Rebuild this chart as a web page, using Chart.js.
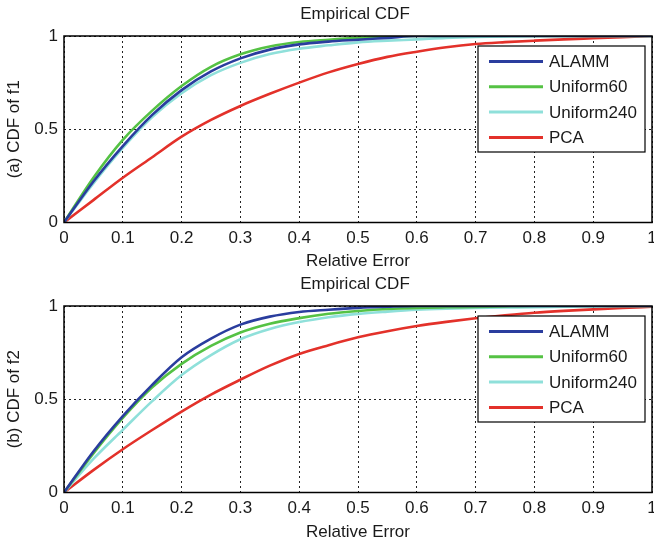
<!DOCTYPE html>
<html>
<head>
<meta charset="utf-8">
<script src="https://cdn.jsdelivr.net/npm/chart.js@4"></script>
<style>
  body { margin: 0; background: #fff; }
  #wrap { position: relative; width: 654px; height: 541px; }
  .box { position: absolute; left: 0; width: 654px; }
</style>
</head>
<body>
<div id="wrap">
  <div class="box" style="top:0;height:270px"><canvas id="chartA"></canvas></div>
  <div class="box" style="top:270px;height:271px"><canvas id="chartB"></canvas></div>
</div>
<script>
// relative error sample points
const errors = [0, 0.05, 0.1, 0.15, 0.2, 0.25, 0.3, 0.35, 0.4, 0.45, 0.5,
                0.55, 0.6, 0.65, 0.7, 0.75, 0.8, 0.85, 0.9, 0.95, 1];
const seriesNames = ['ALAMM', 'Uniform60', 'Uniform240', 'PCA'];
const xTicks = [0, 0.1, 0.2, 0.3, 0.4, 0.5, 0.6, 0.7, 0.8, 0.9, 1];
const yTicks = [0, 0.5, 1];

// (a) CDF of f1
const f1Alamm = [0, 0.22, 0.41, 0.577, 0.71, 0.81, 0.88, 0.927, 0.955, 0.97, 0.98, 0.99, 1, 1, 1, 1, 1, 1, 1, 1, 1];
const f1Uni60 = [0, 0.24, 0.443, 0.60, 0.732, 0.835, 0.902, 0.944, 0.968, 0.98, 0.99, 0.997, 1, 1, 1, 1, 1, 1, 1, 1, 1];
const f1Uni240 = [0, 0.21, 0.40, 0.565, 0.693, 0.79, 0.856, 0.903, 0.932, 0.95, 0.966, 0.975, 0.982, 0.99, 0.995, 0.998, 1, 1, 1, 1, 1];
const f1Pca = [0, 0.12, 0.24, 0.35, 0.46, 0.55, 0.625, 0.69, 0.75, 0.805, 0.85, 0.888, 0.916, 0.94, 0.957, 0.967, 0.975, 0.982, 0.988, 0.994, 1];

// (b) CDF of f2
const f2Alamm = [0, 0.22, 0.41, 0.577, 0.725, 0.825, 0.9, 0.943, 0.968, 0.98, 0.99, 0.996, 1, 1, 1, 1, 1, 1, 1, 1, 1];
const f2Uni60 = [0, 0.21, 0.40, 0.564, 0.69, 0.786, 0.858, 0.905, 0.935, 0.958, 0.973, 0.984, 0.99, 0.993, 0.995, 0.998, 1, 1, 1, 1, 1];
const f2Uni240 = [0, 0.18, 0.336, 0.49, 0.63, 0.737, 0.822, 0.877, 0.914, 0.94, 0.958, 0.97, 0.98, 0.986, 0.99, 0.992, 0.993, 0.996, 0.998, 1, 1];
const f2Pca = [0, 0.12, 0.232, 0.335, 0.434, 0.525, 0.605, 0.68, 0.743, 0.79, 0.832, 0.865, 0.893, 0.915, 0.934, 0.95, 0.964, 0.974, 0.982, 0.99, 0.996];

const colors = ['#2a3d9e', '#55c244', '#8fe0da', '#e3312a'];
const fontFamily = '"Liberation Sans", Arial, sans-serif';
const fontSize = 17;
const textColor = '#1a1a1a';

// draws title, plot box and an inside legend like MATLAB does
const matlabBits = {
    id: 'matlabBits',
    afterDraw(chart, args, opts) {
        const ctx = chart.ctx;
        const a = chart.chartArea;
        ctx.save();
        // box round the axes
        ctx.strokeStyle = '#000';
        ctx.lineWidth = 1.5;
        ctx.setLineDash([]);
        ctx.strokeRect(a.left, a.top, a.right - a.left, a.bottom - a.top);

        // title
        ctx.fillStyle = textColor;
        ctx.font = fontSize + 'px ' + fontFamily;
        ctx.textAlign = 'center';
        ctx.textBaseline = 'middle';
        ctx.fillText(opts.title, (a.left + a.right) / 2 - 3, a.top - 22);

        // legend
        const w = 167, h = 106;
        const lx = a.right - 7 - w, ly = a.top + 10;
        ctx.fillStyle = '#fff';
        ctx.fillRect(lx, ly, w, h);
        ctx.lineWidth = 1.2;
        ctx.strokeStyle = '#000';
        ctx.strokeRect(lx, ly, w, h);
        ctx.textAlign = 'left';
        chart.data.datasets.forEach((ds, i) => {
            const y = ly + 15.5 + i * 25.3;
            ctx.strokeStyle = ds.borderColor;
            ctx.lineWidth = 3;
            ctx.beginPath();
            ctx.moveTo(lx + 11, y);
            ctx.lineTo(lx + 65, y);
            ctx.stroke();
            ctx.fillStyle = textColor;
            ctx.fillText(ds.label, lx + 71, y + 1);
        });
        ctx.restore();
    }
};

function makeChart(id, title, yTitle, values, xHeight) {
    const datasets = seriesNames.map((name, i) => ({
        label: name,
        data: errors.map((e, j) => ({ x: e, y: values[i][j] })),
        borderColor: colors[i],
        borderWidth: 2.6,
        pointRadius: 0,
        fill: false,
        cubicInterpolationMode: 'monotone'
    }));
    const gridStyle = {
        color: '#222',
        lineWidth: 1,
        drawTicks: false
    };
    return new Chart(document.getElementById(id), {
        type: 'line',
        data: { datasets: datasets },
        options: {
            responsive: true,
            maintainAspectRatio: false,
            animation: false,
            layout: { padding: { top: 36, right: 2, left: 0, bottom: 0 } },
            plugins: {
                legend: { display: false },
                tooltip: { enabled: false },
                matlabBits: { title: title }
            },
            scales: {
                x: {
                    type: 'linear',
                    min: 0, max: 1,
                    afterBuildTicks: (s) => { s.ticks = xTicks.map(v => ({ value: v })); },
                    afterFit: (s) => { s.height = xHeight; s.paddingLeft = 0; s.paddingRight = 0; },
                    grid: gridStyle,
                    border: { display: false, dash: [2, 3] },
                    ticks: {
                        padding: 6,
                        color: textColor,
                        font: { family: fontFamily, size: fontSize },
                        callback: (v) => String(v)
                    },
                    title: {
                        display: true,
                        text: 'Relative Error',
                        color: textColor,
                        font: { family: fontFamily, size: fontSize, lineHeight: 1 },
                        padding: { top: 0, bottom: 0 }
                    }
                },
                y: {
                    min: 0, max: 1,
                    afterBuildTicks: (s) => { s.ticks = yTicks.map(v => ({ value: v })); },
                    afterFit: (s) => { s.width = 64; s.paddingTop = 0; s.paddingBottom = 0; },
                    grid: gridStyle,
                    border: { display: false, dash: [2, 3] },
                    ticks: {
                        padding: 6,
                        color: textColor,
                        font: { family: fontFamily, size: fontSize },
                        callback: (v) => String(v)
                    },
                    title: {
                        display: true,
                        text: yTitle,
                        color: textColor,
                        font: { family: fontFamily, size: fontSize, lineHeight: 1 },
                        padding: { top: 6, bottom: 0 }
                    }
                }
            }
        },
        plugins: [matlabBits]
    });
}

makeChart('chartA', 'Empirical CDF', '(a) CDF of f1', [f1Alamm, f1Uni60, f1Uni240, f1Pca], 47.5);
makeChart('chartB', 'Empirical CDF', '(b) CDF of f2', [f2Alamm, f2Uni60, f2Uni240, f2Pca], 48.5);
</script>
</body>
</html>
